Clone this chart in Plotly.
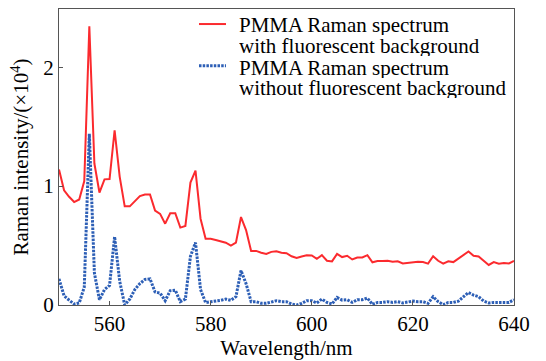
import plotly.graph_objects as go

wavelength = list(range(550, 641))

with_bg = [1.14, 0.965, 0.91, 0.866, 0.888, 1.043, 2.345, 1.19, 0.946, 1.057,
           1.06, 1.47, 1.08, 0.83, 0.83, 0.87, 0.916, 0.93, 0.93, 0.795,
           0.767, 0.684, 0.772, 0.772, 0.651, 0.665, 1.03, 1.13, 0.726, 0.557,
           0.557, 0.546, 0.532, 0.524, 0.50, 0.524, 0.74, 0.63, 0.455, 0.455,
           0.44, 0.43, 0.447, 0.452, 0.44, 0.436, 0.41, 0.395, 0.408, 0.419,
           0.417, 0.389, 0.419, 0.372, 0.367, 0.43, 0.403, 0.414, 0.383, 0.40,
           0.40, 0.419, 0.359, 0.37, 0.37, 0.372, 0.364, 0.367, 0.35, 0.356,
           0.359, 0.364, 0.361, 0.348, 0.41, 0.372, 0.348, 0.367, 0.361, 0.389,
           0.422, 0.45, 0.414, 0.408, 0.372, 0.337, 0.361, 0.348, 0.353, 0.35,
           0.37]

without_bg = [0.22, 0.077, 0.041, 0.008, 0.017, 0.15, 1.44, 0.27, 0.044, 0.13,
              0.165, 0.574, 0.2, 0.0, 0.05, 0.13, 0.18, 0.215, 0.22, 0.11,
              0.10, 0.036, 0.12, 0.124, 0.028, 0.05, 0.41, 0.525, 0.13, 0.02,
              0.028, 0.033, 0.039, 0.05, 0.039, 0.07, 0.29, 0.18, 0.028, 0.028,
              0.014, 0.014, 0.028, 0.036, 0.028, 0.028, 0.008, 0.0, 0.014, 0.036,
              0.036, 0.017, 0.05, 0.022, 0.008, 0.063, 0.041, 0.044, 0.022, 0.044,
              0.044, 0.058, 0.005, 0.022, 0.022, 0.028, 0.022, 0.028, 0.017, 0.022,
              0.033, 0.028, 0.028, 0.014, 0.07, 0.028, 0.003, 0.022, 0.022, 0.033,
              0.07, 0.105, 0.083, 0.07, 0.033, 0.017, 0.022, 0.022, 0.017, 0.022,
              0.044]

x_ticks = [560, 580, 600, 620, 640]
y_ticks = [0, 1, 2]

name_with = "PMMA Raman spectrum<br>with fluorescent background"
name_without = "PMMA Raman spectrum<br>without fluorescent background"
legend_lines = ["PMMA Raman spectrum", "with fluorescent background",
                "PMMA Raman spectrum", "without fluorescent background"]

RED = "#fb2a2e"
BLUE = "#2d5fb6"
FONT = "'Liberation Serif', 'Times New Roman', Times, serif"

fig = go.Figure()
fig.add_trace(go.Scatter(x=wavelength, y=with_bg, mode="lines", name=name_with,
                         line=dict(color=RED, width=2), showlegend=False))
fig.add_trace(go.Scatter(x=wavelength, y=without_bg, mode="lines", name=name_without,
                         line=dict(color=BLUE, width=3, dash="2.5px,1.2px"),
                         showlegend=False))

# legend drawn as text + sample lines (paper coordinates)
line_y = [0.9468, 0.8754, 0.8023, 0.7326]
for txt, yy in zip(legend_lines, line_y):
    fig.add_annotation(x=0.3934, y=yy, xref="paper", yref="paper", text=txt,
                       showarrow=False, xanchor="left", yanchor="middle",
                       height=20, borderpad=0,
                       font=dict(family=FONT, size=21, color="black"))
fig.add_shape(type="line", xref="paper", yref="paper", x0=0.3077, x1=0.367,
              y0=0.9492, y1=0.9492, line=dict(color=RED, width=2))
fig.add_shape(type="line", xref="paper", yref="paper", x0=0.3077, x1=0.367,
              y0=0.8083, y1=0.8083, line=dict(color=BLUE, width=3, dash="2.5px,1.2px"))

axis_common = dict(showline=True, linecolor="#555555", linewidth=1, mirror=True,
                   ticks="inside", ticklen=4, tickcolor="#555555", showgrid=False,
                   zeroline=False, tickfont=dict(family=FONT, size=21, color="black"))

fig.update_xaxes(range=[550, 640], tickvals=x_ticks,
                 title=dict(text="Wavelength/nm", font=dict(family=FONT, size=21, color="black"),
                            standoff=2),
                 **axis_common)
fig.update_yaxes(range=[0, 2.49], tickvals=y_ticks,
                 title=dict(text="Raman intensity/(×10<sup>4</sup>)",
                            font=dict(family=FONT, size=21, color="black"), standoff=8),
                 **axis_common)

fig.update_layout(width=546, height=361, margin=dict(l=59, r=32, t=8, b=52),
                  plot_bgcolor="white", paper_bgcolor="white",
                  font=dict(family=FONT, size=21, color="black"))

fig.write_html("out.html")
